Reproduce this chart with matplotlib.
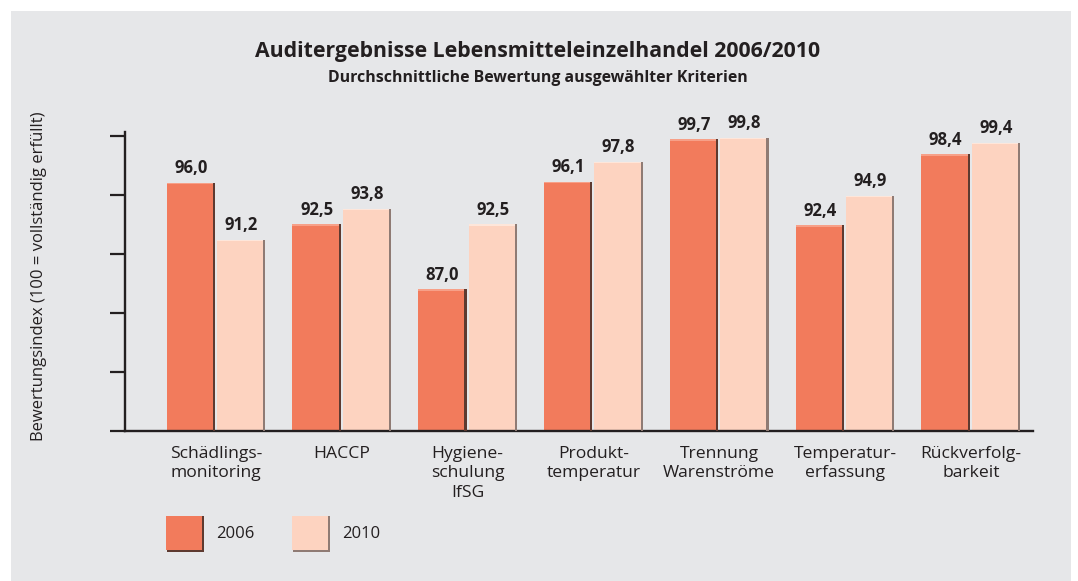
import matplotlib
matplotlib.use("Agg")
import matplotlib.pyplot as plt
from matplotlib.patches import Rectangle
import numpy as np

categories = ["Schädlings-\nmonitoring", "HACCP", "Hygiene-\nschulung\nIfSG",
              "Produkt-\ntemperatur", "Trennung\nWarenströme", "Temperatur-\nerfassung",
              "Rückverfolg-\nbarkeit"]
values_2006 = [96.0, 92.5, 87.0, 96.1, 99.7, 92.4, 98.4]
values_2010 = [91.2, 93.8, 92.5, 97.8, 99.8, 94.9, 99.4]
series_names = ["2006", "2010"]
y_ticks = [75, 80, 85, 90, 95, 100]

title = "Auditergebnisse Lebensmitteleinzelhandel 2006/2010"
subtitle = "Durchschnittliche Bewertung ausgewählter Kriterien"
ylabel = "Bewertungsindex (100 = vollständig erfüllt)"

c2006, c2010 = "#f27b5c", "#fdd3c0"
s2006, s2010 = "#5e3a30", "#8f7b74"
hl2006, hl2010 = "#f7a088", "#fee6da"
bg = "#e6e7e9"
ink = "#231f20"

plt.rcParams['font.family'] = ['Open Sans', 'DejaVu Sans']

W, H = 1078, 581
fig = plt.figure(figsize=(W / 100, H / 100), dpi=100)
fig.patches.append(Rectangle((11 / W, 0), 1060 / W, 570 / H, transform=fig.transFigure,
                             facecolor=bg, edgecolor="none", zorder=-10))

ax = fig.add_axes([125 / W, (581 - 431) / H, (1033 - 125) / W, (431 - 132) / H])
ax.set_facecolor("none")
x = np.arange(len(categories))
w = 0.385
off = 0.2
sw = 0.018

for xs, vals, col, sh, hl in [(x - off, values_2006, c2006, s2006, hl2006),
                              (x + off, values_2010, c2010, s2010, hl2010)]:
    vals = np.array(vals)
    ax.bar(xs, vals - 75, bottom=75, width=w, color=col, edgecolor="none", zorder=2)
    ax.bar(xs + w / 2 - sw / 2, vals - 75, bottom=75, width=sw, color=sh,
           edgecolor="none", zorder=3)
    ax.bar(xs - sw / 2, 0.12, bottom=vals - 0.12, width=w - sw, color=hl,
           edgecolor="none", zorder=3)
    for xi, v in zip(xs, vals):
        ax.annotate(f"{v:.1f}".replace(".", ","), (xi, v), xytext=(0, 4),
                    textcoords="offset points", ha="center", va="bottom",
                    fontsize=12, fontweight="bold", color=ink, zorder=4)

ax.set_xlim(-0.723, 6.494)
ax.set_ylim(75, 100.3)
ax.set_yticks(y_ticks)
ax.set_yticklabels([])
ax.tick_params(axis="y", direction="out", length=10.5, width=1.6, color=ink)
ax.set_xticks(x)
ax.set_xticklabels(categories, fontsize=12.6, color=ink, linespacing=1.32)
ax.tick_params(axis="x", length=0, pad=10.5)
for s in ["top", "right"]:
    ax.spines[s].set_visible(False)
for s in ["left", "bottom"]:
    ax.spines[s].set_linewidth(1.7)
    ax.spines[s].set_color(ink)

fig.text(39 / W, 1 - 276 / H, ylabel, rotation=90, ha="center", va="center",
         fontsize=12, color=ink)
fig.text(538 / W, 1 - 51 / H, title, ha="center", va="center", fontsize=15.3,
         fontweight="bold", color=ink)
fig.text(538 / W, 1 - 78 / H, subtitle, ha="center", va="center", fontsize=11.4,
         fontweight="bold", color=ink)

# legend
for (lx, name, col, sh) in [(166, series_names[0], c2006, s2006),
                            (292, series_names[1], c2010, s2010)]:
    fig.patches.append(Rectangle(((lx + 1) / W, 1 - 552 / H), 36 / W, 2 / H,
                                 transform=fig.transFigure, facecolor=sh, edgecolor="none"))
    fig.patches.append(Rectangle(((lx + 36) / W, 1 - 552 / H), 2 / W, 36 / H,
                                 transform=fig.transFigure, facecolor=sh, edgecolor="none"))
    fig.patches.append(Rectangle((lx / W, 1 - 550 / H), 36 / W, 34 / H,
                                 transform=fig.transFigure, facecolor=col, edgecolor="none"))
    fig.text((lx + 50) / W, 1 - 534 / H, name, ha="left", va="center",
             fontsize=12, color=ink)

fig.savefig("out.png", dpi=100)
